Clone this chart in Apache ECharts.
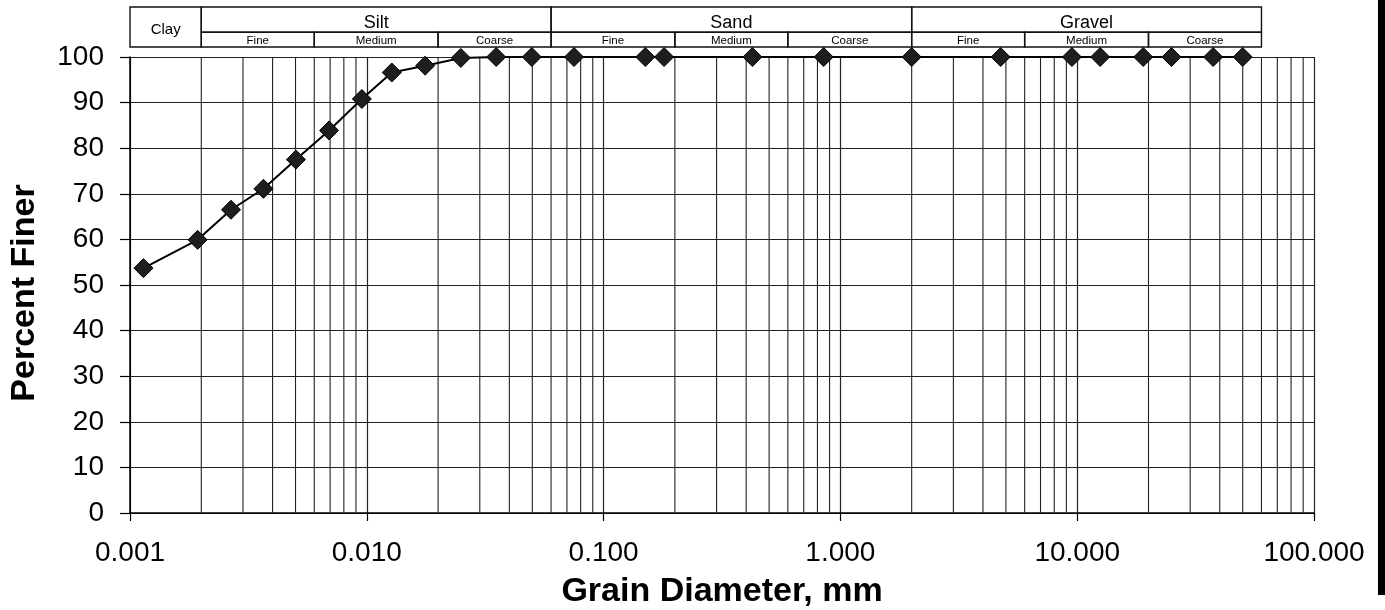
<!DOCTYPE html>
<html><head><meta charset="utf-8">
<script src="https://cdn.jsdelivr.net/npm/echarts@6/dist/echarts.min.js"></script>
<style>html,body{margin:0;padding:0;background:#fff}#c{width:1385px;height:610px}</style>
</head><body><div id="c"></div>
<script>
// Grain-size distribution data (hydrometer + sieve)
const diameters = [0.00114, 0.00193, 0.00267, 0.00366, 0.00502, 0.00693, 0.00953, 0.01275, 0.01763, 0.02495, 0.03518, 0.04977,
                   0.075, 0.15, 0.18, 0.425, 0.85, 2.0, 4.75, 9.5, 12.5, 19, 25, 37.5, 50];
const percentFiner = [53.7, 59.9, 66.5, 71.1, 77.5, 83.9, 90.8, 96.6, 98.1, 99.8, 100, 100,
                      100, 100, 100, 100, 100, 100, 100, 100, 100, 100, 100, 100, 100];

// Axis ranges
const xMin = 0.001, xMax = 100;
const yMin = 0, yMax = 100, yInterval = 10;
const minorMultipliers = [2, 3, 4, 5, 6, 7, 8, 9];

// Soil classification header (boundaries in mm)
const classNames = ['Clay', 'Silt', 'Sand', 'Gravel'];
const classBounds = [0.001, 0.002, 0.06, 2, 60];
const subNames = ['Fine', 'Medium', 'Coarse'];
const siltSubBounds = [0.002, 0.006, 0.02, 0.06];
const sandSubBounds = [0.06, 0.2, 0.6, 2];
const gravelSubBounds = [2, 6, 20, 60];

const FONT = '"Liberation Sans", Arial, sans-serif';

// header cells: [x0, x1, row, label]
const headerCells = [];
headerCells.push([classBounds[0], classBounds[1], 0, classNames[0]]);
for (let i = 1; i < classNames.length; i++) headerCells.push([classBounds[i], classBounds[i + 1], 1, classNames[i]]);
[siltSubBounds, sandSubBounds, gravelSubBounds].forEach(b => {
  for (let j = 0; j < subNames.length; j++) headerCells.push([b[j], b[j + 1], 2, subNames[j]]);
});

// minor vertical grid values (2..9 x each decade)
const minorGrid = [];
for (let e = Math.round(Math.log10(xMin)); e < Math.round(Math.log10(xMax)); e++) {
  minorMultipliers.forEach(m => minorGrid.push([+(m * Math.pow(10, e)).toPrecision(6), 0]));
}

const points = diameters.map((d, i) => [d, percentFiner[i]]);

const chart = echarts.init(document.getElementById('c'), null, { renderer: 'canvas' });
chart.setOption({
  animation: false,
  backgroundColor: '#fff',
  grid: [
    { left: 130, right: 71, top: 57, bottom: 97, containLabel: false, outerBoundsMode: 'none' },
    { left: 130, right: 71, top: 7, height: 40, containLabel: false, outerBoundsMode: 'none' }
  ],
  xAxis: [
    {
      type: 'log', logBase: 10, min: xMin, max: xMax, gridIndex: 0,
      name: 'Grain Diameter, mm', nameLocation: 'middle', nameGap: 62,
      nameTextStyle: { fontFamily: FONT, fontSize: 34, fontWeight: 'bold', color: '#000' },
      axisLine: { show: true, onZero: false, lineStyle: { color: '#000', width: 1.5 } },
      axisTick: { show: true, inside: false, length: 8, lineStyle: { color: '#000', width: 1.2 } },
      axisLabel: { fontFamily: FONT, fontSize: 28, color: '#000', margin: 26,
        formatter: v => Number(v).toFixed(3) },
      splitLine: { show: true, lineStyle: { color: '#222', width: 1.2 } },
      minorTick: { show: false }
    },
    { type: 'log', logBase: 10, min: xMin, max: xMax, gridIndex: 1, show: false }
  ],
  yAxis: [
    {
      type: 'value', min: yMin, max: yMax, interval: yInterval, gridIndex: 0,
      name: 'Percent Finer', nameLocation: 'middle', nameGap: 88,
      nameTextStyle: { fontFamily: FONT, fontSize: 34, fontWeight: 'bold', color: '#000', padding: [0, 16, 0, 0] },
      axisLine: { show: true, lineStyle: { color: '#000', width: 1.5 } },
      axisTick: { show: true, inside: false, length: 10, lineStyle: { color: '#000', width: 1.2 } },
      axisLabel: { fontFamily: FONT, fontSize: 28, color: '#000', margin: 26 },
      splitLine: { show: true, lineStyle: { color: '#222', width: 1.2 } }
    },
    { type: 'value', min: 0, max: 1, gridIndex: 1, show: false }
  ],
  graphic: [
    { type: 'rect', right: 0, top: 0, shape: { width: 7, height: 595 }, style: { fill: '#000' }, z: 100 }
  ],
  series: [
    {
      name: 'minorGrid', type: 'custom', xAxisIndex: 0, yAxisIndex: 0, data: minorGrid, silent: true, z: 1,
      renderItem: function (params, api) {
        const cs = params.coordSys;
        const x = api.coord([api.value(0), 0])[0];
        return { type: 'line', shape: { x1: x, y1: cs.y, x2: x, y2: cs.y + cs.height },
          style: { stroke: '#222', lineWidth: 1.1 } };
      }
    },
    {
      name: 'Percent Finer', type: 'line', xAxisIndex: 0, yAxisIndex: 0, data: points, z: 5,
      symbol: 'diamond', symbolSize: 19,
      itemStyle: { color: '#1e1e1e', borderColor: '#000', borderWidth: 1 },
      lineStyle: { color: '#000', width: 2 },
      clip: false
    },
    {
      name: 'header', type: 'custom', xAxisIndex: 1, yAxisIndex: 1, data: headerCells, clip: false, silent: true,
      renderItem: function (params, api) {
        const cs = params.coordSys;
        const x0 = api.coord([api.value(0), 0])[0];
        const x1 = api.coord([api.value(1), 0])[0];
        const row = api.value(2);
        const label = headerCells[params.dataIndex][3];
        const top = cs.y, h = cs.height, split = top + h * 0.63;
        let y0, y1, fs, dy;
        if (row === 0) { y0 = top; y1 = top + h; fs = 15; dy = 3; }
        else if (row === 1) { y0 = top; y1 = split; fs = 18; dy = 3; }
        else { y0 = split; y1 = top + h; fs = 11.5; dy = 1.5; }
        return {
          type: 'group',
          children: [
            { type: 'rect', shape: { x: x0, y: y0, width: x1 - x0, height: y1 - y0 },
              style: { fill: 'none', stroke: '#111', lineWidth: 1.4 } },
            { type: 'text', style: { text: label, x: (x0 + x1) / 2, y: (y0 + y1) / 2 + dy,
              align: 'center', verticalAlign: 'middle', font: fs + 'px ' + FONT, fill: '#000' } }
          ]
        };
      }
    }
  ]
});
</script>
</body></html>
